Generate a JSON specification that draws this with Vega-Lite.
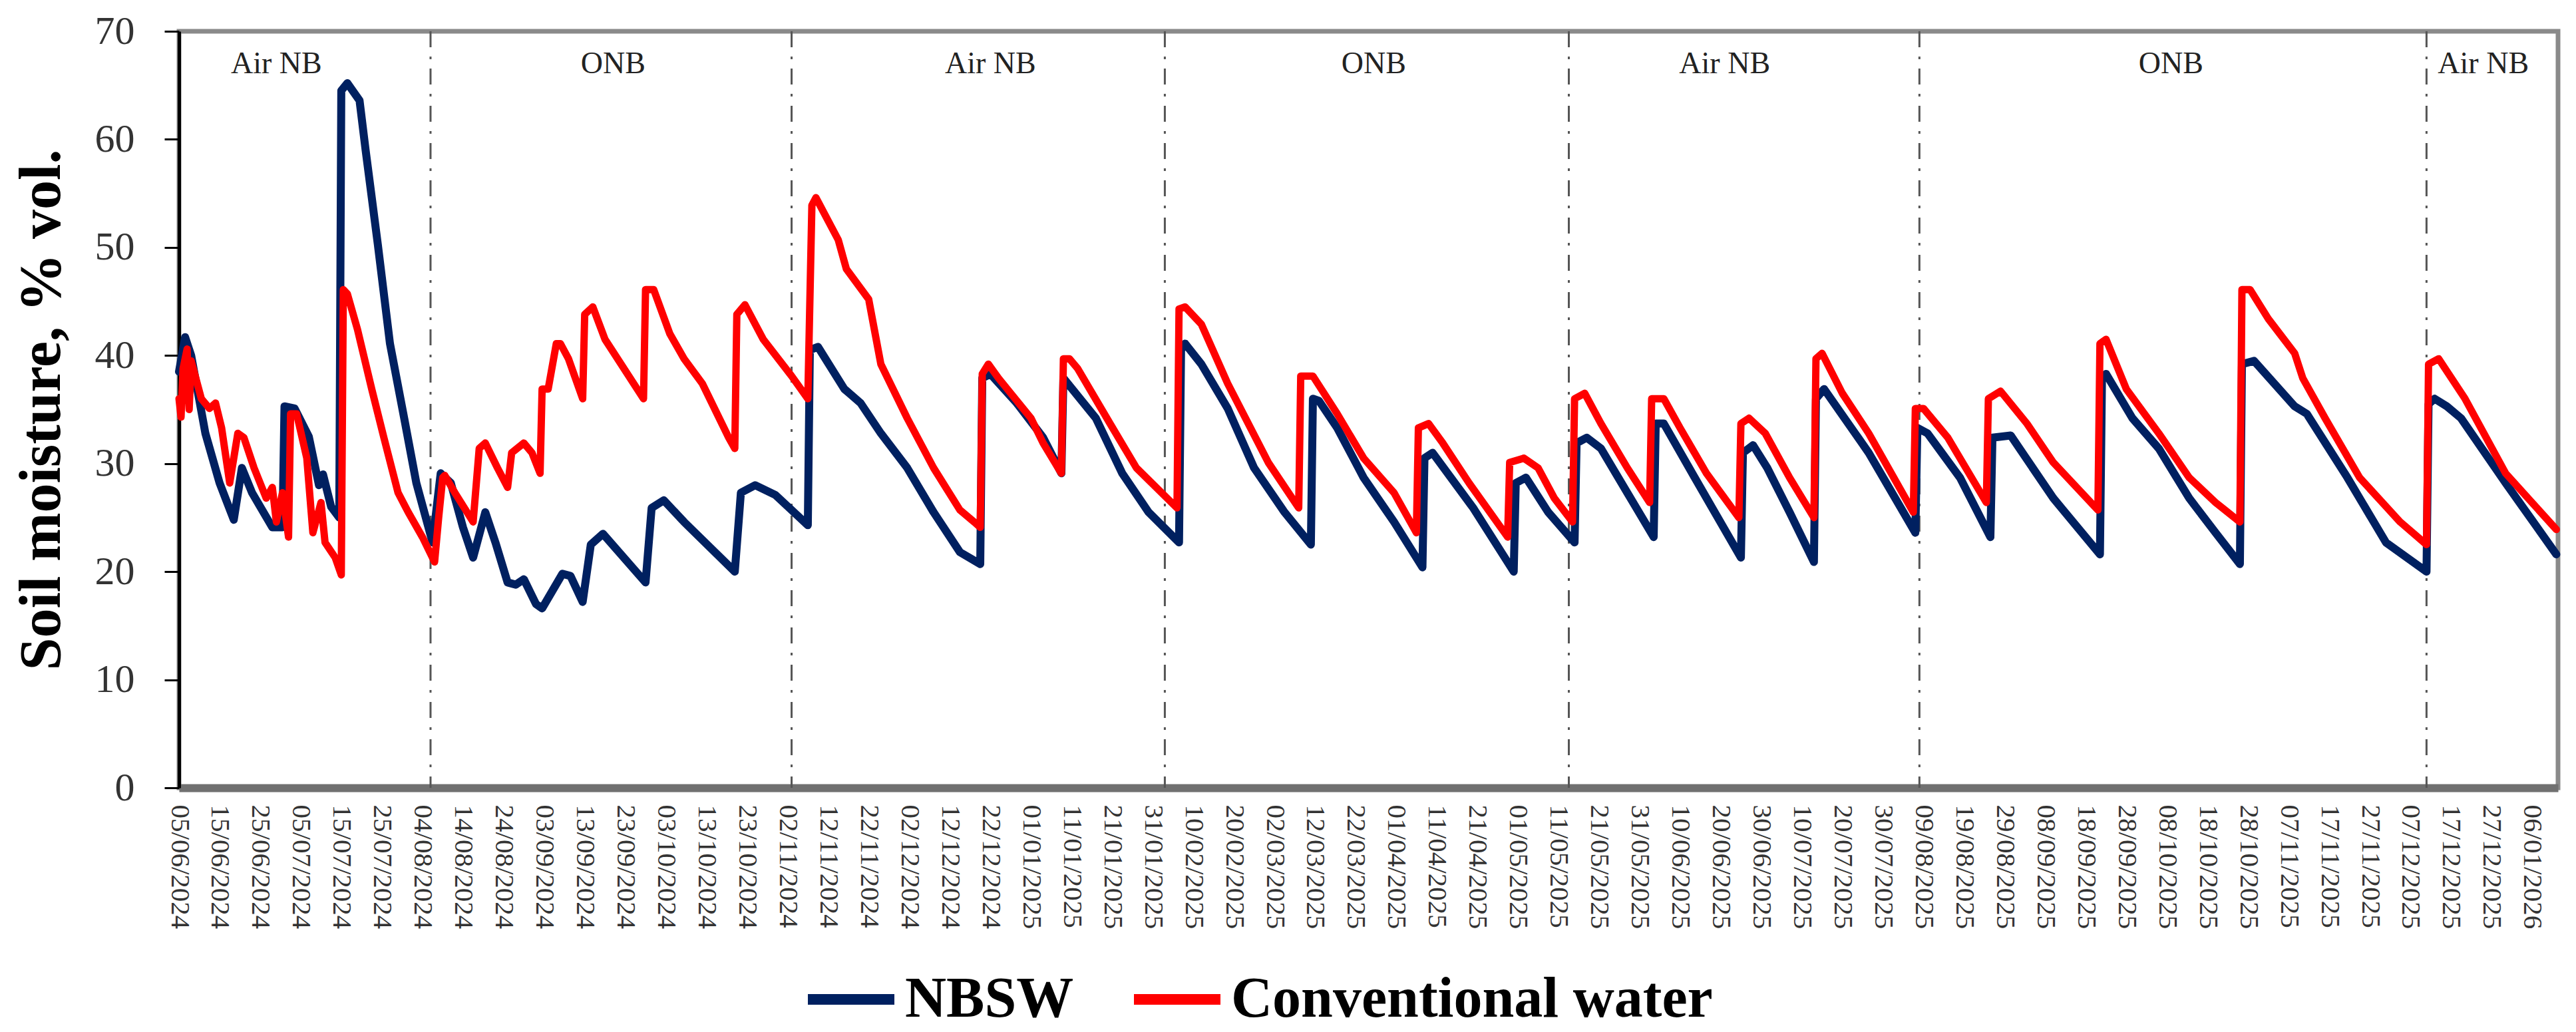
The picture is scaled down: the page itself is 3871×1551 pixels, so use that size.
{
  "$schema": "https://vega.github.io/schema/vega-lite/v6.json",
  "width": 3575,
  "height": 1137,
  "autosize": {"type": "none"},
  "padding": {"left": 269, "top": 47, "right": 27, "bottom": 367},
  "background": "white",
  "config": {
    "font": "Liberation Serif",
    "view": {"stroke": "#8a8a8a", "strokeWidth": 7},
    "axis": {"labelFont": "Liberation Serif", "titleFont": "Liberation Serif", "grid": false}
  },
  "datasets": {
    "switches": [
      {"t": "2024-08-06T00:00"},
      {"t": "2024-11-03T00:00"},
      {"t": "2025-02-03T00:00"},
      {"t": "2025-05-13T14:00"},
      {"t": "2025-08-08T00:00"},
      {"t": "2025-12-11T00:00"}
    ],
    "phases": [
      {"t": "2024-06-29T00:00", "label": "Air NB"},
      {"t": "2024-09-20T00:00", "label": "ONB"},
      {"t": "2024-12-22T00:00", "label": "Air NB"},
      {"t": "2025-03-26T12:00", "label": "ONB"},
      {"t": "2025-06-21T00:00", "label": "Air NB"},
      {"t": "2025-10-09T00:00", "label": "ONB"},
      {"t": "2025-12-25T00:00", "label": "Air NB"}
    ],
    "soil": [
      {"t": "2024-06-05T00:00", "s": "NBSW", "v": 38.5},
      {"t": "2024-06-06T12:00", "s": "NBSW", "v": 41.7},
      {"t": "2024-06-08T00:00", "s": "NBSW", "v": 40.0},
      {"t": "2024-06-11T12:00", "s": "NBSW", "v": 32.8},
      {"t": "2024-06-15T00:00", "s": "NBSW", "v": 28.2},
      {"t": "2024-06-18T12:00", "s": "NBSW", "v": 24.8},
      {"t": "2024-06-20T12:00", "s": "NBSW", "v": 29.6},
      {"t": "2024-06-23T00:00", "s": "NBSW", "v": 27.3},
      {"t": "2024-06-28T00:00", "s": "NBSW", "v": 24.1},
      {"t": "2024-06-30T12:00", "s": "NBSW", "v": 24.1},
      {"t": "2024-07-01T00:00", "s": "NBSW", "v": 35.3},
      {"t": "2024-07-03T12:00", "s": "NBSW", "v": 35.1},
      {"t": "2024-07-07T00:00", "s": "NBSW", "v": 32.5},
      {"t": "2024-07-09T12:00", "s": "NBSW", "v": 28.0},
      {"t": "2024-07-10T12:00", "s": "NBSW", "v": 29.0},
      {"t": "2024-07-12T12:00", "s": "NBSW", "v": 26.0},
      {"t": "2024-07-14T12:00", "s": "NBSW", "v": 25.0},
      {"t": "2024-07-15T00:00", "s": "NBSW", "v": 64.5},
      {"t": "2024-07-16T12:00", "s": "NBSW", "v": 65.2},
      {"t": "2024-07-19T12:00", "s": "NBSW", "v": 63.6},
      {"t": "2024-07-21T00:00", "s": "NBSW", "v": 59.0},
      {"t": "2024-07-24T00:00", "s": "NBSW", "v": 50.3},
      {"t": "2024-07-27T00:00", "s": "NBSW", "v": 41.1},
      {"t": "2024-07-30T12:00", "s": "NBSW", "v": 34.2},
      {"t": "2024-08-02T12:00", "s": "NBSW", "v": 28.2},
      {"t": "2024-08-06T12:00", "s": "NBSW", "v": 22.7},
      {"t": "2024-08-08T12:00", "s": "NBSW", "v": 29.1},
      {"t": "2024-08-11T00:00", "s": "NBSW", "v": 28.2},
      {"t": "2024-08-14T00:00", "s": "NBSW", "v": 24.1},
      {"t": "2024-08-16T12:00", "s": "NBSW", "v": 21.3},
      {"t": "2024-08-19T12:00", "s": "NBSW", "v": 25.5},
      {"t": "2024-08-22T00:00", "s": "NBSW", "v": 22.7},
      {"t": "2024-08-25T00:00", "s": "NBSW", "v": 19.0},
      {"t": "2024-08-27T00:00", "s": "NBSW", "v": 18.8},
      {"t": "2024-08-29T00:00", "s": "NBSW", "v": 19.3},
      {"t": "2024-09-01T00:00", "s": "NBSW", "v": 17.0},
      {"t": "2024-09-02T12:00", "s": "NBSW", "v": 16.6},
      {"t": "2024-09-05T00:00", "s": "NBSW", "v": 18.2},
      {"t": "2024-09-07T12:00", "s": "NBSW", "v": 19.8},
      {"t": "2024-09-09T12:00", "s": "NBSW", "v": 19.6},
      {"t": "2024-09-12T12:00", "s": "NBSW", "v": 17.2},
      {"t": "2024-09-14T12:00", "s": "NBSW", "v": 22.5},
      {"t": "2024-09-17T12:00", "s": "NBSW", "v": 23.5},
      {"t": "2024-09-28T00:00", "s": "NBSW", "v": 19.0},
      {"t": "2024-09-29T12:00", "s": "NBSW", "v": 25.9},
      {"t": "2024-10-02T12:00", "s": "NBSW", "v": 26.6},
      {"t": "2024-10-07T12:00", "s": "NBSW", "v": 24.6},
      {"t": "2024-10-20T00:00", "s": "NBSW", "v": 20.0},
      {"t": "2024-10-21T12:00", "s": "NBSW", "v": 27.3},
      {"t": "2024-10-25T00:00", "s": "NBSW", "v": 28.0},
      {"t": "2024-10-30T00:00", "s": "NBSW", "v": 27.1},
      {"t": "2024-11-07T00:00", "s": "NBSW", "v": 24.3},
      {"t": "2024-11-07T12:00", "s": "NBSW", "v": 40.5},
      {"t": "2024-11-09T12:00", "s": "NBSW", "v": 40.8},
      {"t": "2024-11-16T00:00", "s": "NBSW", "v": 36.9},
      {"t": "2024-11-20T00:00", "s": "NBSW", "v": 35.6},
      {"t": "2024-11-25T00:00", "s": "NBSW", "v": 32.8},
      {"t": "2024-12-01T12:00", "s": "NBSW", "v": 29.6},
      {"t": "2024-12-08T00:00", "s": "NBSW", "v": 25.5},
      {"t": "2024-12-14T12:00", "s": "NBSW", "v": 21.8},
      {"t": "2024-12-19T12:00", "s": "NBSW", "v": 20.7},
      {"t": "2024-12-20T00:00", "s": "NBSW", "v": 37.9},
      {"t": "2024-12-22T00:00", "s": "NBSW", "v": 38.3},
      {"t": "2024-12-28T12:00", "s": "NBSW", "v": 35.6},
      {"t": "2025-01-04T00:00", "s": "NBSW", "v": 32.4},
      {"t": "2025-01-08T12:00", "s": "NBSW", "v": 29.1},
      {"t": "2025-01-09T00:00", "s": "NBSW", "v": 37.9},
      {"t": "2025-01-17T00:00", "s": "NBSW", "v": 34.2},
      {"t": "2025-01-23T12:00", "s": "NBSW", "v": 29.1},
      {"t": "2025-01-30T00:00", "s": "NBSW", "v": 25.5},
      {"t": "2025-02-06T12:00", "s": "NBSW", "v": 22.7},
      {"t": "2025-02-07T00:00", "s": "NBSW", "v": 40.5},
      {"t": "2025-02-08T00:00", "s": "NBSW", "v": 41.1},
      {"t": "2025-02-12T00:00", "s": "NBSW", "v": 39.2},
      {"t": "2025-02-18T12:00", "s": "NBSW", "v": 35.1},
      {"t": "2025-02-25T00:00", "s": "NBSW", "v": 29.6},
      {"t": "2025-03-04T12:00", "s": "NBSW", "v": 25.5},
      {"t": "2025-03-11T00:00", "s": "NBSW", "v": 22.5},
      {"t": "2025-03-11T12:00", "s": "NBSW", "v": 36.0},
      {"t": "2025-03-13T00:00", "s": "NBSW", "v": 35.8},
      {"t": "2025-03-17T12:00", "s": "NBSW", "v": 33.3},
      {"t": "2025-03-24T00:00", "s": "NBSW", "v": 28.7},
      {"t": "2025-03-31T12:00", "s": "NBSW", "v": 24.6},
      {"t": "2025-04-07T12:00", "s": "NBSW", "v": 20.4},
      {"t": "2025-04-08T00:00", "s": "NBSW", "v": 30.5},
      {"t": "2025-04-10T00:00", "s": "NBSW", "v": 31.0},
      {"t": "2025-04-20T00:00", "s": "NBSW", "v": 25.9},
      {"t": "2025-04-30T00:00", "s": "NBSW", "v": 20.0},
      {"t": "2025-04-30T12:00", "s": "NBSW", "v": 28.2},
      {"t": "2025-05-03T00:00", "s": "NBSW", "v": 28.7},
      {"t": "2025-05-08T12:00", "s": "NBSW", "v": 25.5},
      {"t": "2025-05-15T00:00", "s": "NBSW", "v": 22.7},
      {"t": "2025-05-15T12:00", "s": "NBSW", "v": 31.9},
      {"t": "2025-05-18T00:00", "s": "NBSW", "v": 32.4},
      {"t": "2025-05-21T12:00", "s": "NBSW", "v": 31.4},
      {"t": "2025-05-28T00:00", "s": "NBSW", "v": 27.3},
      {"t": "2025-06-03T12:00", "s": "NBSW", "v": 23.2},
      {"t": "2025-06-04T00:00", "s": "NBSW", "v": 33.7},
      {"t": "2025-06-06T00:00", "s": "NBSW", "v": 33.7},
      {"t": "2025-06-13T00:00", "s": "NBSW", "v": 29.1},
      {"t": "2025-06-25T00:00", "s": "NBSW", "v": 21.3},
      {"t": "2025-06-25T12:00", "s": "NBSW", "v": 31.0},
      {"t": "2025-06-28T00:00", "s": "NBSW", "v": 31.7},
      {"t": "2025-07-01T12:00", "s": "NBSW", "v": 29.6},
      {"t": "2025-07-07T00:00", "s": "NBSW", "v": 25.5},
      {"t": "2025-07-13T00:00", "s": "NBSW", "v": 20.9},
      {"t": "2025-07-13T12:00", "s": "NBSW", "v": 36.0},
      {"t": "2025-07-15T12:00", "s": "NBSW", "v": 36.9},
      {"t": "2025-07-26T12:00", "s": "NBSW", "v": 31.0},
      {"t": "2025-08-07T00:00", "s": "NBSW", "v": 23.6},
      {"t": "2025-08-07T12:00", "s": "NBSW", "v": 33.3},
      {"t": "2025-08-10T00:00", "s": "NBSW", "v": 32.8},
      {"t": "2025-08-18T00:00", "s": "NBSW", "v": 28.7},
      {"t": "2025-08-25T12:00", "s": "NBSW", "v": 23.2},
      {"t": "2025-08-26T00:00", "s": "NBSW", "v": 32.4},
      {"t": "2025-08-30T12:00", "s": "NBSW", "v": 32.6},
      {"t": "2025-09-10T00:00", "s": "NBSW", "v": 26.8},
      {"t": "2025-09-21T12:00", "s": "NBSW", "v": 21.6},
      {"t": "2025-09-22T00:00", "s": "NBSW", "v": 37.8},
      {"t": "2025-09-23T00:00", "s": "NBSW", "v": 38.3},
      {"t": "2025-09-29T12:00", "s": "NBSW", "v": 34.2},
      {"t": "2025-10-06T00:00", "s": "NBSW", "v": 31.4},
      {"t": "2025-10-13T12:00", "s": "NBSW", "v": 26.8},
      {"t": "2025-10-20T00:00", "s": "NBSW", "v": 23.6},
      {"t": "2025-10-26T00:00", "s": "NBSW", "v": 20.7},
      {"t": "2025-10-26T12:00", "s": "NBSW", "v": 39.2},
      {"t": "2025-10-29T12:00", "s": "NBSW", "v": 39.5},
      {"t": "2025-11-08T12:00", "s": "NBSW", "v": 35.3},
      {"t": "2025-11-11T12:00", "s": "NBSW", "v": 34.6},
      {"t": "2025-11-21T12:00", "s": "NBSW", "v": 28.7},
      {"t": "2025-12-01T00:00", "s": "NBSW", "v": 22.7},
      {"t": "2025-12-11T00:00", "s": "NBSW", "v": 20.0},
      {"t": "2025-12-11T12:00", "s": "NBSW", "v": 35.5},
      {"t": "2025-12-13T00:00", "s": "NBSW", "v": 36.0},
      {"t": "2025-12-16T00:00", "s": "NBSW", "v": 35.3},
      {"t": "2025-12-19T12:00", "s": "NBSW", "v": 34.2},
      {"t": "2025-12-30T12:00", "s": "NBSW", "v": 28.2},
      {"t": "2026-01-12T00:00", "s": "NBSW", "v": 21.6},
      {"t": "2024-06-05T00:00", "s": "Conventional water", "v": 36.0},
      {"t": "2024-06-05T12:00", "s": "Conventional water", "v": 34.3},
      {"t": "2024-06-06T00:00", "s": "Conventional water", "v": 38.8},
      {"t": "2024-06-07T00:00", "s": "Conventional water", "v": 40.6},
      {"t": "2024-06-07T12:00", "s": "Conventional water", "v": 35.0},
      {"t": "2024-06-08T00:00", "s": "Conventional water", "v": 39.5},
      {"t": "2024-06-10T12:00", "s": "Conventional water", "v": 36.0},
      {"t": "2024-06-12T12:00", "s": "Conventional water", "v": 35.1},
      {"t": "2024-06-14T00:00", "s": "Conventional water", "v": 35.6},
      {"t": "2024-06-15T12:00", "s": "Conventional water", "v": 33.3},
      {"t": "2024-06-17T12:00", "s": "Conventional water", "v": 28.2},
      {"t": "2024-06-19T12:00", "s": "Conventional water", "v": 32.8},
      {"t": "2024-06-21T00:00", "s": "Conventional water", "v": 32.4},
      {"t": "2024-06-23T12:00", "s": "Conventional water", "v": 29.6},
      {"t": "2024-06-26T12:00", "s": "Conventional water", "v": 26.8},
      {"t": "2024-06-28T00:00", "s": "Conventional water", "v": 27.8},
      {"t": "2024-06-29T00:00", "s": "Conventional water", "v": 24.6},
      {"t": "2024-06-30T12:00", "s": "Conventional water", "v": 27.3},
      {"t": "2024-07-02T00:00", "s": "Conventional water", "v": 23.2},
      {"t": "2024-07-02T12:00", "s": "Conventional water", "v": 34.6},
      {"t": "2024-07-04T00:00", "s": "Conventional water", "v": 34.6},
      {"t": "2024-07-06T12:00", "s": "Conventional water", "v": 30.5},
      {"t": "2024-07-08T00:00", "s": "Conventional water", "v": 23.6},
      {"t": "2024-07-10T00:00", "s": "Conventional water", "v": 26.4},
      {"t": "2024-07-11T00:00", "s": "Conventional water", "v": 22.7},
      {"t": "2024-07-13T12:00", "s": "Conventional water", "v": 21.3},
      {"t": "2024-07-15T00:00", "s": "Conventional water", "v": 19.7},
      {"t": "2024-07-15T12:00", "s": "Conventional water", "v": 46.1},
      {"t": "2024-07-16T12:00", "s": "Conventional water", "v": 45.7},
      {"t": "2024-07-19T00:00", "s": "Conventional water", "v": 42.4},
      {"t": "2024-07-22T12:00", "s": "Conventional water", "v": 36.9},
      {"t": "2024-07-25T12:00", "s": "Conventional water", "v": 32.4},
      {"t": "2024-07-29T00:00", "s": "Conventional water", "v": 27.3},
      {"t": "2024-07-31T12:00", "s": "Conventional water", "v": 25.5},
      {"t": "2024-08-04T00:00", "s": "Conventional water", "v": 23.2},
      {"t": "2024-08-07T00:00", "s": "Conventional water", "v": 20.9},
      {"t": "2024-08-08T00:00", "s": "Conventional water", "v": 25.0},
      {"t": "2024-08-09T00:00", "s": "Conventional water", "v": 28.7},
      {"t": "2024-08-09T12:00", "s": "Conventional water", "v": 28.9},
      {"t": "2024-08-12T00:00", "s": "Conventional water", "v": 27.3},
      {"t": "2024-08-16T12:00", "s": "Conventional water", "v": 24.6},
      {"t": "2024-08-18T00:00", "s": "Conventional water", "v": 31.4},
      {"t": "2024-08-19T12:00", "s": "Conventional water", "v": 31.9},
      {"t": "2024-08-22T12:00", "s": "Conventional water", "v": 29.6},
      {"t": "2024-08-25T00:00", "s": "Conventional water", "v": 27.8},
      {"t": "2024-08-26T00:00", "s": "Conventional water", "v": 31.0},
      {"t": "2024-08-29T00:00", "s": "Conventional water", "v": 31.9},
      {"t": "2024-08-31T00:00", "s": "Conventional water", "v": 31.0},
      {"t": "2024-09-02T00:00", "s": "Conventional water", "v": 29.1},
      {"t": "2024-09-02T12:00", "s": "Conventional water", "v": 36.9},
      {"t": "2024-09-04T00:00", "s": "Conventional water", "v": 36.9},
      {"t": "2024-09-06T00:00", "s": "Conventional water", "v": 41.1},
      {"t": "2024-09-07T00:00", "s": "Conventional water", "v": 41.1},
      {"t": "2024-09-09T00:00", "s": "Conventional water", "v": 39.7},
      {"t": "2024-09-12T12:00", "s": "Conventional water", "v": 36.0},
      {"t": "2024-09-13T00:00", "s": "Conventional water", "v": 43.8},
      {"t": "2024-09-15T00:00", "s": "Conventional water", "v": 44.5},
      {"t": "2024-09-18T00:00", "s": "Conventional water", "v": 41.5},
      {"t": "2024-09-27T12:00", "s": "Conventional water", "v": 36.0},
      {"t": "2024-09-28T00:00", "s": "Conventional water", "v": 46.1},
      {"t": "2024-09-30T00:00", "s": "Conventional water", "v": 46.1},
      {"t": "2024-10-04T00:00", "s": "Conventional water", "v": 42.0},
      {"t": "2024-10-07T12:00", "s": "Conventional water", "v": 39.7},
      {"t": "2024-10-12T00:00", "s": "Conventional water", "v": 37.4},
      {"t": "2024-10-18T12:00", "s": "Conventional water", "v": 32.4},
      {"t": "2024-10-20T00:00", "s": "Conventional water", "v": 31.4},
      {"t": "2024-10-20T12:00", "s": "Conventional water", "v": 43.8},
      {"t": "2024-10-22T12:00", "s": "Conventional water", "v": 44.7},
      {"t": "2024-10-27T00:00", "s": "Conventional water", "v": 41.5},
      {"t": "2024-11-03T00:00", "s": "Conventional water", "v": 38.1},
      {"t": "2024-11-07T00:00", "s": "Conventional water", "v": 36.0},
      {"t": "2024-11-08T00:00", "s": "Conventional water", "v": 53.9},
      {"t": "2024-11-09T00:00", "s": "Conventional water", "v": 54.6},
      {"t": "2024-11-14T12:00", "s": "Conventional water", "v": 50.7},
      {"t": "2024-11-16T12:00", "s": "Conventional water", "v": 48.0},
      {"t": "2024-11-22T00:00", "s": "Conventional water", "v": 45.2},
      {"t": "2024-11-25T00:00", "s": "Conventional water", "v": 39.2},
      {"t": "2024-12-01T12:00", "s": "Conventional water", "v": 34.2},
      {"t": "2024-12-08T00:00", "s": "Conventional water", "v": 29.6},
      {"t": "2024-12-14T12:00", "s": "Conventional water", "v": 25.7},
      {"t": "2024-12-18T00:00", "s": "Conventional water", "v": 24.6},
      {"t": "2024-12-19T12:00", "s": "Conventional water", "v": 24.1},
      {"t": "2024-12-20T00:00", "s": "Conventional water", "v": 38.3},
      {"t": "2024-12-21T12:00", "s": "Conventional water", "v": 39.2},
      {"t": "2024-12-24T00:00", "s": "Conventional water", "v": 37.9},
      {"t": "2025-01-01T00:00", "s": "Conventional water", "v": 34.2},
      {"t": "2025-01-04T00:00", "s": "Conventional water", "v": 31.9},
      {"t": "2025-01-08T12:00", "s": "Conventional water", "v": 29.1},
      {"t": "2025-01-09T00:00", "s": "Conventional water", "v": 39.7},
      {"t": "2025-01-10T12:00", "s": "Conventional water", "v": 39.7},
      {"t": "2025-01-12T12:00", "s": "Conventional water", "v": 38.8},
      {"t": "2025-01-20T12:00", "s": "Conventional water", "v": 33.7},
      {"t": "2025-01-27T00:00", "s": "Conventional water", "v": 29.6},
      {"t": "2025-02-06T00:00", "s": "Conventional water", "v": 25.9},
      {"t": "2025-02-06T12:00", "s": "Conventional water", "v": 44.3},
      {"t": "2025-02-08T00:00", "s": "Conventional water", "v": 44.5},
      {"t": "2025-02-12T00:00", "s": "Conventional water", "v": 42.9},
      {"t": "2025-02-18T12:00", "s": "Conventional water", "v": 37.4},
      {"t": "2025-02-28T12:00", "s": "Conventional water", "v": 30.1},
      {"t": "2025-03-08T00:00", "s": "Conventional water", "v": 25.9},
      {"t": "2025-03-08T12:00", "s": "Conventional water", "v": 38.1},
      {"t": "2025-03-11T12:00", "s": "Conventional water", "v": 38.1},
      {"t": "2025-03-17T12:00", "s": "Conventional water", "v": 34.6},
      {"t": "2025-03-24T00:00", "s": "Conventional water", "v": 30.5},
      {"t": "2025-03-31T12:00", "s": "Conventional water", "v": 27.3},
      {"t": "2025-04-06T00:00", "s": "Conventional water", "v": 23.6},
      {"t": "2025-04-06T12:00", "s": "Conventional water", "v": 33.3},
      {"t": "2025-04-09T00:00", "s": "Conventional water", "v": 33.7},
      {"t": "2025-04-12T12:00", "s": "Conventional water", "v": 31.9},
      {"t": "2025-04-19T00:00", "s": "Conventional water", "v": 28.2},
      {"t": "2025-04-28T12:00", "s": "Conventional water", "v": 23.2},
      {"t": "2025-04-29T00:00", "s": "Conventional water", "v": 30.1},
      {"t": "2025-05-02T12:00", "s": "Conventional water", "v": 30.5},
      {"t": "2025-05-06T00:00", "s": "Conventional water", "v": 29.6},
      {"t": "2025-05-10T00:00", "s": "Conventional water", "v": 26.8},
      {"t": "2025-05-14T12:00", "s": "Conventional water", "v": 24.6},
      {"t": "2025-05-15T00:00", "s": "Conventional water", "v": 36.0},
      {"t": "2025-05-17T12:00", "s": "Conventional water", "v": 36.5},
      {"t": "2025-05-21T12:00", "s": "Conventional water", "v": 33.7},
      {"t": "2025-05-28T00:00", "s": "Conventional water", "v": 29.6},
      {"t": "2025-06-02T12:00", "s": "Conventional water", "v": 26.4},
      {"t": "2025-06-03T00:00", "s": "Conventional water", "v": 36.0},
      {"t": "2025-06-06T00:00", "s": "Conventional water", "v": 36.0},
      {"t": "2025-06-10T00:00", "s": "Conventional water", "v": 33.3},
      {"t": "2025-06-16T12:00", "s": "Conventional water", "v": 29.1},
      {"t": "2025-06-24T12:00", "s": "Conventional water", "v": 25.0},
      {"t": "2025-06-25T00:00", "s": "Conventional water", "v": 33.7},
      {"t": "2025-06-27T00:00", "s": "Conventional water", "v": 34.2},
      {"t": "2025-07-01T00:00", "s": "Conventional water", "v": 32.8},
      {"t": "2025-07-07T00:00", "s": "Conventional water", "v": 28.7},
      {"t": "2025-07-13T00:00", "s": "Conventional water", "v": 25.0},
      {"t": "2025-07-13T12:00", "s": "Conventional water", "v": 39.7},
      {"t": "2025-07-15T00:00", "s": "Conventional water", "v": 40.2},
      {"t": "2025-07-20T00:00", "s": "Conventional water", "v": 36.5},
      {"t": "2025-07-26T12:00", "s": "Conventional water", "v": 32.8},
      {"t": "2025-08-06T12:00", "s": "Conventional water", "v": 25.5},
      {"t": "2025-08-07T00:00", "s": "Conventional water", "v": 35.1},
      {"t": "2025-08-09T00:00", "s": "Conventional water", "v": 35.1},
      {"t": "2025-08-15T00:00", "s": "Conventional water", "v": 32.4},
      {"t": "2025-08-24T12:00", "s": "Conventional water", "v": 26.4},
      {"t": "2025-08-25T00:00", "s": "Conventional water", "v": 36.0},
      {"t": "2025-08-28T00:00", "s": "Conventional water", "v": 36.7},
      {"t": "2025-09-03T12:00", "s": "Conventional water", "v": 33.7},
      {"t": "2025-09-10T00:00", "s": "Conventional water", "v": 30.1},
      {"t": "2025-09-21T00:00", "s": "Conventional water", "v": 25.7},
      {"t": "2025-09-21T12:00", "s": "Conventional water", "v": 41.1},
      {"t": "2025-09-23T00:00", "s": "Conventional water", "v": 41.5},
      {"t": "2025-09-28T00:00", "s": "Conventional water", "v": 36.9},
      {"t": "2025-10-06T00:00", "s": "Conventional water", "v": 32.8},
      {"t": "2025-10-13T12:00", "s": "Conventional water", "v": 28.7},
      {"t": "2025-10-20T00:00", "s": "Conventional water", "v": 26.4},
      {"t": "2025-10-26T00:00", "s": "Conventional water", "v": 24.6},
      {"t": "2025-10-26T12:00", "s": "Conventional water", "v": 46.1},
      {"t": "2025-10-28T12:00", "s": "Conventional water", "v": 46.1},
      {"t": "2025-11-02T00:00", "s": "Conventional water", "v": 43.4},
      {"t": "2025-11-08T12:00", "s": "Conventional water", "v": 40.2},
      {"t": "2025-11-10T12:00", "s": "Conventional water", "v": 37.9},
      {"t": "2025-11-16T00:00", "s": "Conventional water", "v": 34.2},
      {"t": "2025-11-24T12:00", "s": "Conventional water", "v": 28.7},
      {"t": "2025-12-04T12:00", "s": "Conventional water", "v": 24.6},
      {"t": "2025-12-11T00:00", "s": "Conventional water", "v": 22.5},
      {"t": "2025-12-11T12:00", "s": "Conventional water", "v": 39.2},
      {"t": "2025-12-14T00:00", "s": "Conventional water", "v": 39.7},
      {"t": "2025-12-20T12:00", "s": "Conventional water", "v": 36.0},
      {"t": "2025-12-30T12:00", "s": "Conventional water", "v": 29.1},
      {"t": "2026-01-12T00:00", "s": "Conventional water", "v": 23.9}
    ]
  },
  "layer": [
    {
      "data": {"name": "switches"},
      "mark": {"type": "rule", "stroke": "#555555", "strokeWidth": 3, "strokeDash": [24, 14, 4, 14]},
      "encoding": {"x": {"field": "t", "type": "temporal"}}
    },
    {
      "data": {"name": "soil"},
      "transform": [{"filter": "datum.s === 'NBSW'"}],
      "mark": {"type": "line", "strokeWidth": 12, "strokeJoin": "round", "strokeCap": "round"},
      "encoding": {
        "x": {
          "field": "t",
          "type": "temporal",
          "scale": {
            "domain": [{"year": 2024, "month": 6, "date": 5}, {"year": 2026, "month": 1, "date": 12, "hours": 10}],
            "nice": false
          },
          "axis": {
            "title": null,
            "format": "%d/%m/%Y",
            "labelAngle": 90,
            "labelFontSize": 41,
            "labelColor": "#333333",
            "labelPadding": 25,
            "labelLimit": 1000,
            "labelOverlap": false,
            "labelFlush": false,
            "labelBound": false,
            "ticks": false,
            "domainColor": "#707070",
            "domainWidth": 12,
            "values": [
              {"year": 2024, "month": 6, "date": 5}, {"year": 2024, "month": 6, "date": 15}, {"year": 2024, "month": 6, "date": 25},
              {"year": 2024, "month": 7, "date": 5}, {"year": 2024, "month": 7, "date": 15}, {"year": 2024, "month": 7, "date": 25},
              {"year": 2024, "month": 8, "date": 4}, {"year": 2024, "month": 8, "date": 14}, {"year": 2024, "month": 8, "date": 24},
              {"year": 2024, "month": 9, "date": 3}, {"year": 2024, "month": 9, "date": 13}, {"year": 2024, "month": 9, "date": 23},
              {"year": 2024, "month": 10, "date": 3}, {"year": 2024, "month": 10, "date": 13}, {"year": 2024, "month": 10, "date": 23},
              {"year": 2024, "month": 11, "date": 2}, {"year": 2024, "month": 11, "date": 12}, {"year": 2024, "month": 11, "date": 22},
              {"year": 2024, "month": 12, "date": 2}, {"year": 2024, "month": 12, "date": 12}, {"year": 2024, "month": 12, "date": 22},
              {"year": 2025, "month": 1, "date": 1}, {"year": 2025, "month": 1, "date": 11}, {"year": 2025, "month": 1, "date": 21},
              {"year": 2025, "month": 1, "date": 31}, {"year": 2025, "month": 2, "date": 10}, {"year": 2025, "month": 2, "date": 20},
              {"year": 2025, "month": 3, "date": 2}, {"year": 2025, "month": 3, "date": 12}, {"year": 2025, "month": 3, "date": 22},
              {"year": 2025, "month": 4, "date": 1}, {"year": 2025, "month": 4, "date": 11}, {"year": 2025, "month": 4, "date": 21},
              {"year": 2025, "month": 5, "date": 1}, {"year": 2025, "month": 5, "date": 11}, {"year": 2025, "month": 5, "date": 21},
              {"year": 2025, "month": 5, "date": 31}, {"year": 2025, "month": 6, "date": 10}, {"year": 2025, "month": 6, "date": 20},
              {"year": 2025, "month": 6, "date": 30}, {"year": 2025, "month": 7, "date": 10}, {"year": 2025, "month": 7, "date": 20},
              {"year": 2025, "month": 7, "date": 30}, {"year": 2025, "month": 8, "date": 9}, {"year": 2025, "month": 8, "date": 19},
              {"year": 2025, "month": 8, "date": 29}, {"year": 2025, "month": 9, "date": 8}, {"year": 2025, "month": 9, "date": 18},
              {"year": 2025, "month": 9, "date": 28}, {"year": 2025, "month": 10, "date": 8}, {"year": 2025, "month": 10, "date": 18},
              {"year": 2025, "month": 10, "date": 28}, {"year": 2025, "month": 11, "date": 7}, {"year": 2025, "month": 11, "date": 17},
              {"year": 2025, "month": 11, "date": 27}, {"year": 2025, "month": 12, "date": 7}, {"year": 2025, "month": 12, "date": 17},
              {"year": 2025, "month": 12, "date": 27}, {"year": 2026, "month": 1, "date": 6}
            ]
          }
        },
        "y": {
          "field": "v",
          "type": "quantitative",
          "scale": {"domain": [0, 70], "nice": false},
          "axis": {
            "title": "Soil moisture, % vol.",
            "values": [0, 10, 20, 30, 40, 50, 60, 70],
            "tickSize": 22,
            "tickWidth": 3,
            "tickColor": "#000000",
            "domainColor": "#000000",
            "domainWidth": 5,
            "labelFontSize": 60,
            "labelColor": "#333333",
            "labelPadding": 45,
            "titleFontSize": 88,
            "titleFontWeight": "bold",
            "titleColor": "#000000",
            "titlePadding": 35
          }
        },
        "color": {
          "field": "s",
          "type": "nominal",
          "scale": {"domain": ["NBSW", "Conventional water"], "range": ["#002060", "#ff0000"]},
          "legend": {
            "orient": "none",
            "legendX": 937,
            "legendY": 1382,
            "direction": "horizontal",
            "title": null,
            "padding": 0,
            "symbolType": "stroke",
            "symbolSize": 16900,
            "symbolStrokeWidth": 16,
            "labelFont": "Liberation Serif",
            "labelFontSize": 86,
            "labelFontWeight": "bold",
            "labelColor": "#000000",
            "labelLimit": 3000,
            "labelOffset": 8,
            "columnPadding": 58
          }
        }
      }
    },
    {
      "data": {"name": "soil"},
      "transform": [{"filter": "datum.s === 'Conventional water'"}],
      "mark": {"type": "line", "strokeWidth": 11, "strokeJoin": "round", "strokeCap": "round"},
      "encoding": {
        "x": {"field": "t", "type": "temporal"},
        "y": {"field": "v", "type": "quantitative"},
        "color": {"field": "s", "type": "nominal"}
      }
    },
    {
      "data": {"name": "phases"},
      "mark": {"type": "text", "fontSize": 46, "color": "#222222", "baseline": "middle", "font": "Liberation Serif"},
      "encoding": {
        "x": {"field": "t", "type": "temporal"},
        "y": {"datum": 67},
        "text": {"field": "label"}
      }
    }
  ]
}
